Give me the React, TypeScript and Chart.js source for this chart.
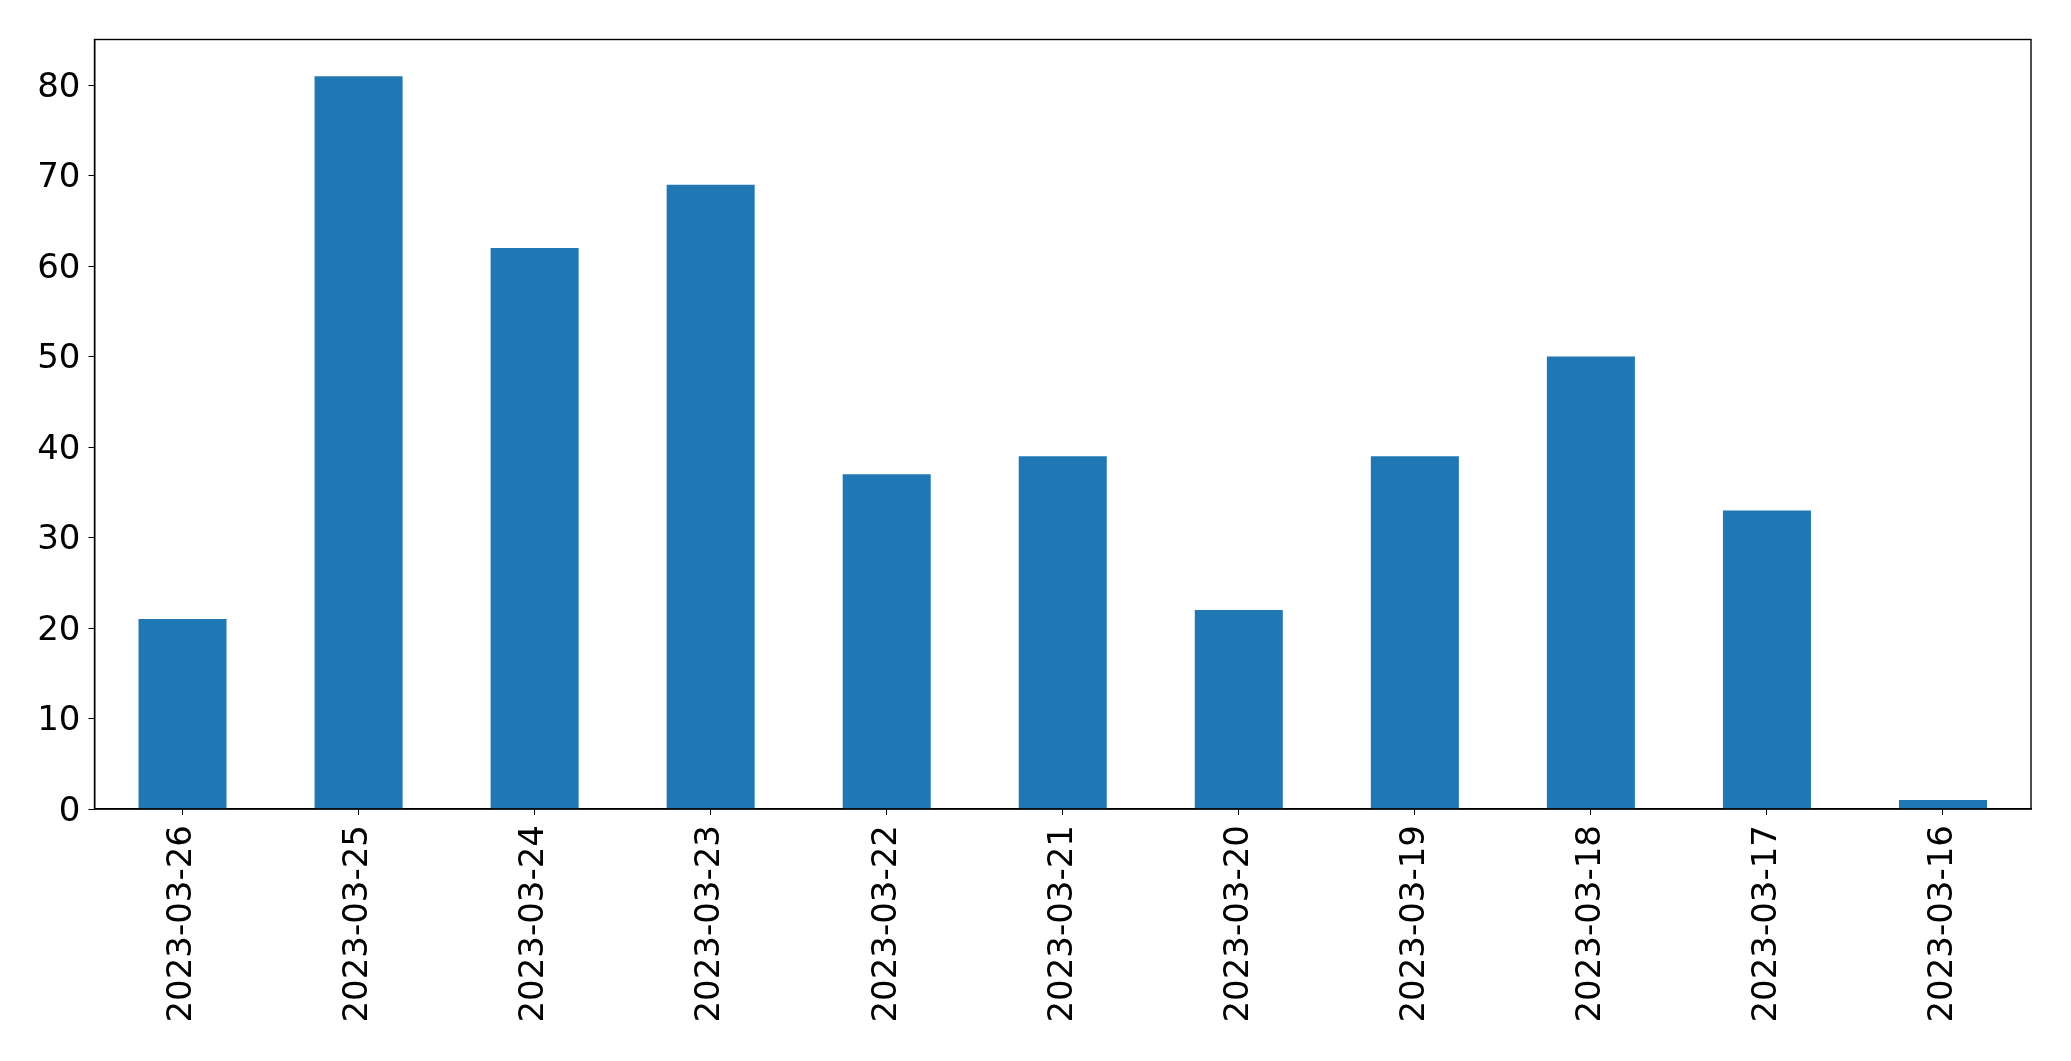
import React, { useEffect, useRef } from "react";
import { Chart, registerables } from "chart.js";

Chart.register(...registerables);

const categories = [
  "2023-03-26", "2023-03-25", "2023-03-24", "2023-03-23", "2023-03-22", "2023-03-21",
  "2023-03-20", "2023-03-19", "2023-03-18", "2023-03-17", "2023-03-16",
];
const values = [21, 81, 62, 69, 37, 39, 22, 39, 50, 33, 1];
const yTicks = [0, 10, 20, 30, 40, 50, 60, 70, 80];
const yMax = 85.05;

const frame = {
  id: "frame",
  afterDraw(chart: any) {
    const { ctx, chartArea } = chart;
    ctx.save();
    ctx.strokeStyle = "#000";
    ctx.lineWidth = 1.4;
    ctx.strokeRect(chartArea.left, chartArea.top, chartArea.right - chartArea.left, chartArea.bottom - chartArea.top);
    ctx.restore();
  },
};

export default function App() {
  const ref = useRef<HTMLCanvasElement | null>(null);
  useEffect(() => {
    if (!ref.current) return;
    const font = { family: "DejaVu Sans", size: 34 };
    const chart = new Chart(ref.current, {
      type: "bar",
      data: {
        labels: categories,
        datasets: [
          {
            data: values,
            backgroundColor: "#1f77b4",
            barPercentage: 0.5,
            categoryPercentage: 1,
          },
        ],
      },
      options: {
        animation: false,
        responsive: false,
        layout: { padding: { top: 39.5, right: 40, left: 0, bottom: 0 } },
        plugins: { legend: { display: false }, tooltip: { enabled: false } },
        scales: {
          x: {
            grid: { display: true, drawOnChartArea: false, drawTicks: true, tickLength: 6, color: "#000", offset: false },
            border: { display: true, color: "#000", width: 1.4 },
            ticks: { font, color: "#000", minRotation: 90, maxRotation: 90, padding: 10, autoSkip: false },
            afterFit(scale: any) {
              scale.height = 252;
            },
          },
          y: {
            min: 0,
            max: yMax,
            grid: { display: true, drawOnChartArea: false, drawTicks: true, tickLength: 6, color: "#000" },
            border: { display: true, color: "#000", width: 1.4 },
            ticks: { font, color: "#000", padding: 8, labelOffset: 3 },
            afterBuildTicks(scale: any) {
              scale.ticks = yTicks.map((v) => ({ value: v }));
            },
            afterFit(scale: any) {
              scale.width = 94.5;
            },
          },
        },
      },
      plugins: [frame],
    });
    return () => chart.destroy();
  }, []);
  return (
    <div style={{ position: "fixed", left: 0, top: 0, width: 2071, height: 1061, background: "#fff" }}>
      <canvas ref={ref} width={2071} height={1061} style={{ width: 2071, height: 1061 }} />
    </div>
  );
}
